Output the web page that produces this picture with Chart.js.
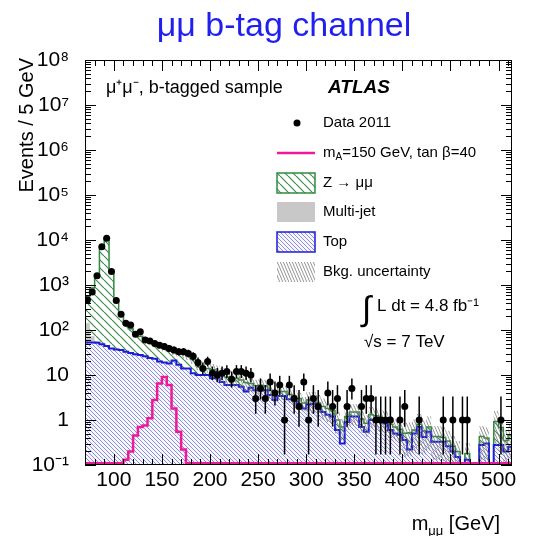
<!DOCTYPE html>
<html>
<head>
<meta charset="utf-8">
<script src="https://cdn.jsdelivr.net/npm/chart.js@4.4.1/dist/chart.umd.min.js"></script>
<style>
  html, body { margin: 0; padding: 0; background: #fff; }
  #wrap { width: 535px; height: 536px; position: relative; }
</style>
</head>
<body>
<div id="wrap"><canvas id="canvas"></canvas></div>
<script>
const FONT = "'Liberation Sans', Arial, Helvetica, sans-serif";

// histogram binning: 5 GeV bins, lower edges from 70 GeV
const firstBin = 70;
const binWidth = 5;

// observed events per bin (70, 75, ... 510)
const dataEvents = [
    464, 700, 1600, 7100, 11000, 2000, 450, 223, 141, 129,
    80, 91, 60, 57, 50, 46, 43, 39, 36, 33,
    33, 30, 26, 19, 14, 20, 11, 10, 11, 12,
    8, 12, 12, 11, 10, 3, 5, 3, 7, 4,
    6, 1, 6, 3, 2, 7, 1, 3, 2, 0,
    4, 2, 3, 0, 2, 5, 0, 2, 3, 3,
    1, 1, 1, 1, 0, 1, 2, 0, 0, 1,
    0, 0, 0, 0, 1, 0, 1, 0, 1, 1,
    0, 0, 0, 0, 0, 0, 1, 0, 0,
];

// top background
const topEvents = [
    53, 53, 52, 48, 44, 39, 37, 36, 33, 31,
    29, 28, 26, 24, 23, 20, 19, 18, 21, 17,
    14, 14, 11, 10, 10, 10, 8.5, 8.5, 7, 6,
    6, 6, 5.5, 4.3, 5.2, 4.6, 4.6, 4.6, 3.6, 2.8,
    3.4, 3.4, 2.9, 2.7, 2.2, 1.8, 2.2, 2.3, 1.8, 1.5,
    1.3, 1.2, 0.6, 0.3, 0.9, 1.2, 1.2, 0.7, 0.55, 1.0,
    1.0, 0.9, 0.85, 0.6, 0.5, 0.47, 0.36, 0.22, 0.5, 0.7,
    0.42, 0.55, 0.33, 0.33, 0.33, 0.26, 0.2, 0.15, 0, 0.13,
    0, 0, 0.28, 0.3, 0, 0.28, 0.28, 0.2, 0.25,
];

// multi-jet, only the first bins are non-empty
const multijetEvents = [90, 20, 5];

// Z -> mumu
const zEvents = [
    410, 790, 1600, 6950, 10450, 2060, 395, 180, 102, 75,
    56, 45, 36, 31, 27, 26, 23, 21, 14, 15,
    15, 13, 11, 6, 5, 4, 4.5, 3.5, 3.5, 3,
    2.5, 2.5, 2.2, 2.5, 1.3, 1.2, 1.3, 1.2, 1.0, 1.0,
    0.9, 0.9, 0.8, 0.7, 0.8, 0.6, 0.6, 0.5, 0.6, 0.5,
    0.5, 0.4, 0.4, 0.4, 0.3, 0.3, 0.3, 0.35, 0.3, 0.3,
    0.25, 0.2, 0.2, 0.2, 0.2, 0.15, 0.15, 0.3, 0.1, 0.1,
    0.15, 0.15, 0.1, 0.1, 0.08, 0.08, 0.06, 0.05, 0, 0.05,
    0, 0, 0.15, 0.1, 0, 0.65, 0.4, 0.15, 0.2,
];

// signal mA = 150 GeV, tan beta = 40
const signalBins = [110, 115, 120, 125, 130, 135, 140, 145, 150, 155, 160, 165, 170];
const signalEvents = [0.13, 0.2, 0.45, 0.7, 0.75, 1.1, 2.8, 6.5, 9, 6, 1.8, 0.55, 0.22];

// relative background uncertainty, from given mass on
const uncFrom = [70, 100, 150, 200, 300, 400];
const uncFrac = [0.08, 0.12, 0.2, 0.35, 0.5, 0.7];

const yTickValues = [0.1, 1, 10, 1e2, 1e3, 1e4, 1e5, 1e6, 1e7, 1e8];
const yTickLabels = ["10⁻¹", "1", "10", "10²", "10³", "10⁴", "10⁵", "10⁶", "10⁷", "10⁸"];
const xTickValues = [100, 150, 200, 250, 300, 350, 400, 450, 500];

const xMin = 70, xMax = 514, yMin = 0.1, yMax = 1e8;
const FLOOR = 1e-3;   // empty bins, below the axis

const edges = dataEvents.map((_, i) => firstBin + i * binWidth);

function histo(vals) {
    const pts = vals.map((v, i) => ({x: edges[i], y: v > 0 ? v : FLOOR}));
    pts.push({x: edges[edges.length - 1] + binWidth, y: pts[pts.length - 1].y});
    return pts;
}

const topStack = topEvents.slice();
const mjStack = topEvents.map((v, i) => v + (multijetEvents[i] || 0));
const totStack = mjStack.map((v, i) => v + zEvents[i]);

// ROOT draws the empty signal bins on the axis; keep it just above the frame
const signalVals = edges.map(e => {
    const k = signalBins.indexOf(e);
    return Math.max(k >= 0 ? signalEvents[k] : 0, yMin * 1.1);
});

function fracAt(e) {
    let f = uncFrac[0];
    uncFrom.forEach((m, k) => { if (e >= m) f = uncFrac[k]; });
    return f;
}
const uncUp = totStack.map((v, i) => v * (1 + fracAt(edges[i])));
const uncDown = totStack.map((v, i) => v * (1 - fracAt(edges[i])));

const dataPts = [];
dataEvents.forEach((n, i) => {
    if (n > 0) dataPts.push({x: edges[i] + binWidth / 2, y: n});
});

const ctx = document.getElementById("canvas");
const c2d = ctx.getContext("2d");

function hatch(w, h, bg, fg, lw) {
    const c = document.createElement("canvas");
    c.width = w;
    c.height = h;
    const g = c.getContext("2d");
    if (bg) {
        g.fillStyle = bg;
        g.fillRect(0, 0, w, h);
    }
    g.strokeStyle = fg;
    g.lineWidth = lw;
    g.beginPath();
    for (const dx of [-w, 0, w]) {
        g.moveTo(dx, 0);
        g.lineTo(dx + w, h);
    }
    g.stroke();
    return c2d.createPattern(c, "repeat");
}

const greenHatch = hatch(8, 8, "#ffffff", "#3c8e4c", 1.2);
const blueHatch = hatch(4, 4, "#f6f6fd", "#8282d8", 0.9);
const greyHatch = hatch(3, 7, null, "#7a7a7a", 0.8);

const GREEN = "#2f8a3f";
const BLUE = "#1c1cd6";
const PINK = "#f0189a";

// error bars (Gehrels approximation) + frame, ticks and texts
const overlay = {
    id: "overlay",
    afterDatasetsDraw(chart) {
        const {ctx: g, chartArea: a, scales: {x, y}} = chart;
        g.save();
        g.beginPath();
        g.rect(a.left, a.top, a.right - a.left, a.bottom - a.top);
        g.clip();
        g.strokeStyle = "#000";
        g.lineWidth = 1.5;
        dataPts.forEach(p => {
            const n = p.y;
            const hi = n + 1 + Math.sqrt(n + 0.75);
            const lo = n * Math.pow(1 - 1 / (9 * n) - 1 / (3 * Math.sqrt(n)), 3);
            const px = x.getPixelForValue(p.x);
            g.beginPath();
            g.moveTo(px, y.getPixelForValue(hi));
            g.lineTo(px, lo > 0 ? y.getPixelForValue(lo) : a.bottom);
            g.stroke();
        });
        g.restore();
    },
    afterDraw(chart) {
        const {ctx: g, chartArea: a, scales: {x, y}} = chart;
        g.save();
        g.strokeStyle = "#000";
        g.lineWidth = 1;
        g.strokeRect(a.left + 0.5, a.top + 0.5, a.right - a.left - 1, a.bottom - a.top - 1);

        g.beginPath();
        for (let d = -1; d < 8; d++) {
            for (let m = 1; m <= 9; m++) {
                const v = m * Math.pow(10, d);
                const py = Math.round(y.getPixelForValue(v)) + 0.5;
                const len = m === 1 ? 11 : 6;
                g.moveTo(a.left, py); g.lineTo(a.left + len, py);
                g.moveTo(a.right, py); g.lineTo(a.right - len, py);
            }
        }
        g.moveTo(a.left, a.top + 0.5); g.lineTo(a.left + 11, a.top + 0.5);
        for (let v = 70; v <= 510; v += 10) {
            const px = Math.round(x.getPixelForValue(v)) + 0.5;
            const len = v % 50 === 0 ? 11 : 6;
            g.moveTo(px, a.bottom); g.lineTo(px, a.bottom - len);
            g.moveTo(px, a.top); g.lineTo(px, a.top + len);
        }
        g.stroke();

        g.fillStyle = "#000";
        g.textBaseline = "middle";
        g.textAlign = "left";

        // page title
        g.save();
        g.fillStyle = "#1f1ff0";
        g.textAlign = "center";
        g.font = `34px ${FONT}`;
        g.fillText("μμ b-tag channel", 284, 27);
        g.restore();

        // y axis title
        g.save();
        g.translate(27, 58);
        g.rotate(-Math.PI / 2);
        g.textAlign = "right";
        g.font = `20px ${FONT}`;
        g.fillText("Events / 5 GeV", 0, 0);
        g.restore();

        // x axis title
        g.font = `20px ${FONT}`;
        const wm = g.measureText("m").width;
        const wr = g.measureText(" [GeV]").width;
        g.font = `13px ${FONT}`;
        const ws = g.measureText("μμ").width;
        const tx = 500 - wm - ws - wr;
        g.textBaseline = "alphabetic";
        g.font = `20px ${FONT}`;
        g.fillText("m", tx, 530);
        g.font = `13px ${FONT}`;
        g.fillText("μμ", tx + wm, 535);
        g.font = `20px ${FONT}`;
        g.fillText(" [GeV]", tx + wm + ws, 530);
        g.textBaseline = "middle";

        g.font = `18px ${FONT}`;
        g.fillText("μ⁺μ⁻, b-tagged sample", 106, 88);
        g.font = `italic bold 19px ${FONT}`;
        g.fillText("ATLAS", 328, 88);

        // legend
        const lx = 277, lw = 38, tx2 = 323;
        g.font = `15px ${FONT}`;
        g.beginPath();
        g.arc(297, 123, 3.5, 0, Math.PI * 2);
        g.fill();
        g.fillText("Data 2011", tx2, 123);

        g.strokeStyle = PINK;
        g.lineWidth = 2.5;
        g.beginPath();
        g.moveTo(lx, 153); g.lineTo(lx + lw, 153);
        g.stroke();
        g.fillText("m", tx2, 153);
        const mW = g.measureText("m").width;
        g.font = `10px ${FONT}`;
        g.fillText("A", tx2 + mW, 157);
        const aW = g.measureText("A").width;
        g.font = `15px ${FONT}`;
        g.fillText("=150 GeV, tan β=40", tx2 + mW + aW, 153);

        const box = (top, fill, stroke) => {
            g.fillStyle = fill;
            g.fillRect(lx, top, lw, 20);
            if (stroke) {
                g.strokeStyle = stroke;
                g.lineWidth = 1.5;
                g.strokeRect(lx, top, lw, 20);
            }
            g.fillStyle = "#000";
        };
        box(173, greenHatch, GREEN);
        g.fillText("Z → μμ", tx2, 183);
        box(202, "#c8c8c8", null);
        g.fillText("Multi-jet", tx2, 212);
        box(232, blueHatch, BLUE);
        g.fillText("Top", tx2, 242);
        box(262, greyHatch, null);
        g.fillText("Bkg. uncertainty", tx2, 272);

        g.font = `34px ${FONT}`;
        g.fillText("∫", 362, 311);
        g.font = `17px ${FONT}`;
        g.fillText("L dt = 4.8 fb⁻¹", 377, 306);
        g.fillText("√s = 7 TeV", 364, 342);
        g.restore();
    },
};

const line = (extra) => Object.assign({
    type: "line",
    stepped: true,
    pointRadius: 0,
    borderColor: "rgba(0,0,0,0)",
    borderWidth: 0,
    fill: false,
}, extra);

new Chart(ctx, {
    type: "line",
    data: {
        datasets: [
            {
                label: "Data 2011",
                data: dataPts,
                showLine: false,
                pointRadius: 3.5,
                pointBackgroundColor: "#000",
                pointBorderWidth: 0,
                order: 1,
            },
            line({label: "signal", data: histo(signalVals), borderColor: PINK, borderWidth: 2.5, order: 2}),
            line({label: "unc-up", data: histo(uncUp), fill: {target: 3}, backgroundColor: greyHatch, order: 3}),
            line({label: "unc-down", data: histo(uncDown), order: 3.5}),
            line({label: "Top", data: histo(topStack), borderColor: BLUE, borderWidth: 2,
                backgroundColor: blueHatch, fill: "start", order: 4}),
            line({label: "Multi-jet", data: histo(mjStack), backgroundColor: "#c8c8c8", fill: "start", order: 5}),
            line({label: "Z", data: histo(totStack), borderColor: GREEN, borderWidth: 1.5,
                backgroundColor: greenHatch, fill: "start", order: 6}),
        ],
    },
    options: {
        responsive: true,
        maintainAspectRatio: false,
        animation: false,
        devicePixelRatio: 1,
        layout: {padding: {left: 0, right: 23, top: 60, bottom: 0}},
        plugins: {
            legend: {display: false},
            tooltip: {enabled: false},
            title: {display: false},
        },
        scales: {
            x: {
                type: "linear",
                min: xMin,
                max: xMax,
                grid: {display: false},
                border: {display: false},
                afterBuildTicks: s => { s.ticks = xTickValues.map(v => ({value: v})); },
                afterFit: s => { s.height = 71; },
                ticks: {
                    font: {family: FONT, size: 21},
                    color: "#000",
                    padding: -5,
                    maxRotation: 0,
                    autoSkip: false,
                },
            },
            y: {
                type: "logarithmic",
                min: yMin,
                max: yMax,
                grid: {display: false},
                border: {display: false},
                afterBuildTicks: s => { s.ticks = yTickValues.map(v => ({value: v})); },
                afterFit: s => { s.width = 85; },
                ticks: {
                    font: {family: FONT, size: 21},
                    color: "#000",
                    padding: 8,
                    autoSkip: false,
                    callback: (v, i) => yTickLabels[i],
                },
            },
        },
    },
    plugins: [overlay],
});
</script>
</body>
</html>
